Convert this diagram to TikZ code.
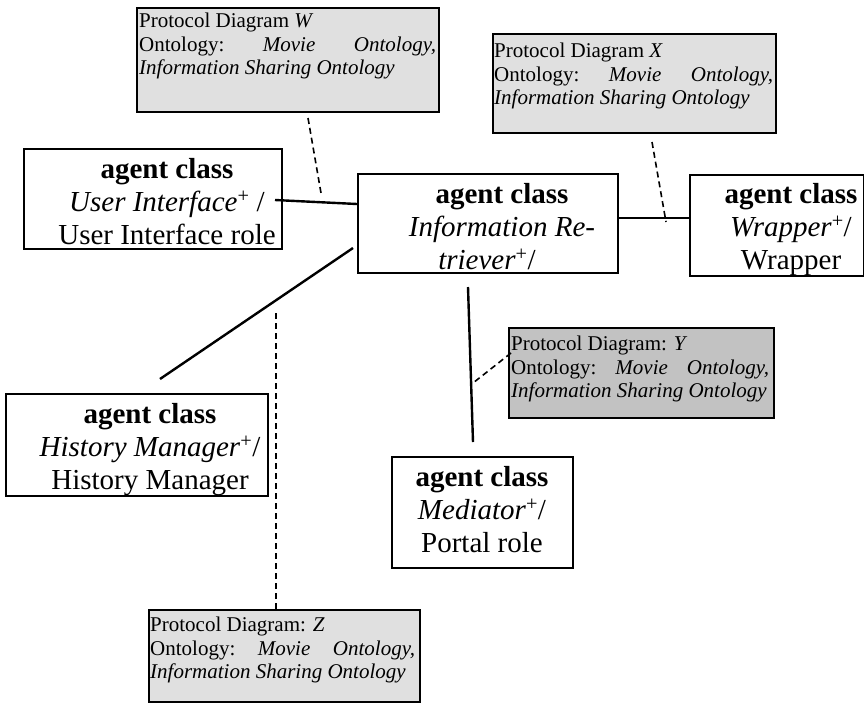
\documentclass[tikz,border=0pt]{standalone}
\usepackage{fontspec}
\setmainfont{Liberation Serif}
\definecolor{protolight}{RGB}{224,224,224}
\definecolor{protodark}{RGB}{194,194,194}
\newcommand{\ontline}[1]{\makebox[#1][s]{Ontology:\hfill\textit{Movie}\hfill\textit{Ontology,}}}
\begin{document}
\begin{tikzpicture}[x=1pt,y=-1pt,
  agentbox/.style={draw, line width=1.8pt, inner sep=0, anchor=north west},
  protobox/.style={draw, line width=1.8pt, inner sep=0, anchor=north west, fill=protolight},
  agenttext/.style={anchor=north, align=center, inner sep=0, font=\fontsize{29}{33}\selectfont},
  prototext/.style={anchor=north west, align=left, inner sep=0, font=\fontsize{21}{23.5}\selectfont},
  link/.style={line width=2.4pt},
  dashlink/.style={line width=1.6pt, dash pattern=on 6pt off 4pt}]
\useasboundingbox (0,0) rectangle (864,705);

% protocol boxes
\node[protobox, minimum width=302pt, minimum height=104pt] (pw) at (136,7) {};
\node[prototext] (pwt) at (139,13) {Protocol Diagram \textit{W}\\ \ontline{297pt}\\ \textit{Information Sharing Ontology}};
\node[protobox, minimum width=283pt, minimum height=99pt] (px) at (492,33) {};
\node[prototext] (pxt) at (494,43) {Protocol Diagram \textit{X}\\ \ontline{279pt}\\ \textit{Information Sharing Ontology}};
\node[protobox, fill=protodark, minimum width=265pt, minimum height=90pt] (py) at (508,327) {};
\node[prototext] (pyt) at (511,336) {Protocol Diagram: \textit{Y}\\ \ontline{258pt}\\ \textit{Information Sharing Ontology}};
\node[protobox, minimum width=271pt, minimum height=92pt] (pz) at (148,609) {};
\node[prototext] (pzt) at (150,617) {Protocol Diagram: \textit{Z}\\ \ontline{265pt}\\ \textit{Information Sharing Ontology}};

% agent boxes
\node[agentbox, minimum width=258pt, minimum height=100pt] (ui) at (23,148) {};
\node[agenttext] (uit) at (167,158) {\textbf{agent class}\\ \textit{User Interface}\textsuperscript{+} /\\ User Interface role};
\node[agentbox, minimum width=260pt, minimum height=99pt] (ir) at (357,173) {};
\node[agenttext] (irt) at (502,183) {\textbf{agent class}\\ \textit{Information Re-}\\ \hspace*{-30pt}\textit{triever}\textsuperscript{+}/};
\node[agentbox, minimum width=174pt, minimum height=101pt] (wr) at (689,174) {};
\node[agenttext] (wrt) at (791,183) {\textbf{agent class}\\ \textit{Wrapper}\textsuperscript{+}/\\ Wrapper};
\node[agentbox, minimum width=262pt, minimum height=102pt] (hm) at (5,393) {};
\node[agenttext] (hmt) at (150,403) {\textbf{agent class}\\ \textit{History Manager}\textsuperscript{+}/\\ History Manager};
\node[agentbox, minimum width=181pt, minimum height=111pt] (med) at (391,456) {};
\node[agenttext] (medt) at (482,466) {\textbf{agent class}\\ \textit{Mediator}\textsuperscript{+}/\\ Portal role};

% connector end points
\coordinate (uiR) at (275,200); \coordinate (irL) at (357,204);
\coordinate (irR) at (617,218); \coordinate (wrL) at (689,218);
\coordinate (irSW) at (353,248); \coordinate (hmT) at (160,379);
\coordinate (irB) at (468,287); \coordinate (medT) at (473,442);
\coordinate (pwB) at (308,118); \coordinate (uiirM) at (321,193);
\coordinate (pxB) at (652,142); \coordinate (irwrM) at (666,222);
\coordinate (pyL) at (511,353); \coordinate (irmedM) at (473,383);
\coordinate (pzT) at (276,609); \coordinate (irhmM) at (276,313);

\draw[link] (uiR) -- (irL);
\draw[link] (irR) -- (wrL);
\draw[link] (irSW) -- (hmT);
\draw[link] (irB) -- (medT);
\draw[dashlink] (pwB) -- (uiirM);
\draw[dashlink] (pxB) -- (irwrM);
\draw[dashlink] (pyL) -- (irmedM);
\draw[dashlink] (pzT) -- (irhmM);
\end{tikzpicture}
\end{document}
